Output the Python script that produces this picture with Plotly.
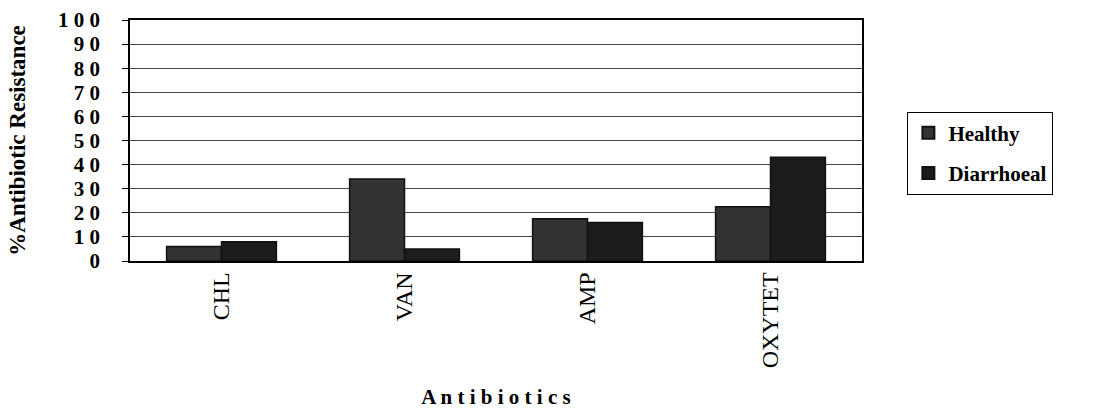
import plotly.graph_objects as go

categories = ["CHL", "VAN", "AMP", "OXYTET"]
healthy = [6, 34, 17.5, 22.5]
diarrhoeal = [8, 5, 16, 43]
y_ticks = [0, 10, 20, 30, 40, 50, 60, 70, 80, 90, 100]
y_ticktext = ["0", "1 0", "2 0", "3 0", "4 0", "5 0", "6 0", "7 0", "8 0", "9 0", "1 0 0"]

SERIF = "Liberation Serif, Times New Roman, serif"
C_HEALTHY = "#333333"
C_DIARR = "#1c1c1c"

fig = go.Figure()
fig.add_trace(go.Bar(x=categories, y=healthy, name="Healthy", showlegend=False,
                     marker=dict(color=C_HEALTHY, line=dict(color="#111111", width=1.5))))
fig.add_trace(go.Bar(x=categories, y=diarrhoeal, name="Diarrhoeal", showlegend=False,
                     marker=dict(color=C_DIARR, line=dict(color="#111111", width=1.5))))
# legend entries with larger square swatches
fig.add_trace(go.Scatter(x=[None], y=[None], mode="markers", name="Healthy", legendgroup="h",
                         marker=dict(symbol="square", size=20, color=C_HEALTHY,
                                     line=dict(color="#111111", width=1))))
fig.add_trace(go.Scatter(x=[None], y=[None], mode="markers", name="Diarrhoeal", legendgroup="d",
                         marker=dict(symbol="square", size=20, color=C_DIARR,
                                     line=dict(color="#111111", width=1))))

fig.update_layout(
    width=1099, height=410,
    margin=dict(l=130, r=237, t=20, b=149, autoexpand=False),
    paper_bgcolor="white", plot_bgcolor="white",
    barmode="group", bargap=0.4, bargroupgap=0,
    font=dict(family=SERIF, color="black", size=15),
    legend=dict(x=1.062, y=0.62, xanchor="left", yanchor="top",
                bordercolor="black", borderwidth=1,
                font=dict(family=SERIF, size=21, color="black", weight="bold"),
                itemsizing="constant", itemwidth=30, tracegroupgap=10),
    xaxis=dict(
        automargin=False,
        showline=True, linecolor="black", linewidth=1.5, mirror=True,
        tickangle=-90, tickfont=dict(family=SERIF, size=24),
        ticks="", showgrid=False,
        title=dict(text="A n t i b i o t i c s", font=dict(family=SERIF, size=21, weight="bold"),
                   standoff=22),
    ),
    yaxis=dict(
        automargin=False,
        range=[0, 100], tickvals=y_ticks, ticktext=y_ticktext,
        showline=True, linecolor="black", linewidth=1.5, mirror=True,
        ticks="outside", ticklen=6, tickcolor="black", ticklabelstandoff=18,
        showgrid=True, gridcolor="#444444", gridwidth=1,
        tickfont=dict(family=SERIF, size=21, weight="bold"),
        title=dict(text="%Antibiotic Resistance", font=dict(family=SERIF, size=23, weight="bold"),
                   standoff=26),
    ),
)

fig.write_html("out.html")
